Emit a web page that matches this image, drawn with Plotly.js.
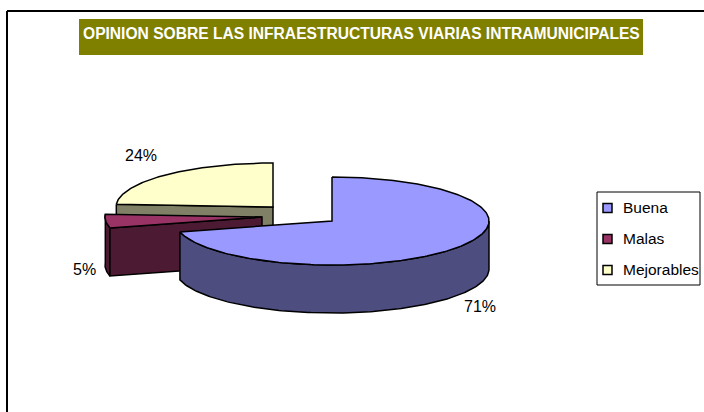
<!DOCTYPE html>
<html>
<head>
<meta charset="utf-8">
<script src="https://cdn.plot.ly/plotly-3.0.1.min.js"></script>
<style>html,body{margin:0;padding:0;background:#fff;overflow:hidden}#c{width:704px;height:412px}</style>
</head>
<body>
<div id="c"></div>
<script>
const chartTitle = "OPINION SOBRE LAS INFRAESTRUCTURAS VIARIAS INTRAMUNICIPALES";
const categories = ["Buena", "Malas", "Mejorables"];
const values = [71, 5, 24];
const topColors = ["#9999FF", "#993366", "#FFFFCC"];
const wallColors = ["#4D4D80", "#4D1A33", "#808066"];
const centers = [[332, 221], [262, 217], [273, 207]];
const labelPos = [[480, 306], [84, 269], [141, 155]];
const RX = 157, RY = 44, DEPTH = 48, LW = 1.5;

const total = values.reduce((a, b) => a + b, 0);
const pt = (c, deg, dy) => [c[0] + RX * Math.sin(deg * Math.PI / 180),
                            c[1] - RY * Math.cos(deg * Math.PI / 180) + (dy || 0)];
function arc(c, a0, a1, dy) {
  const n = Math.max(2, Math.ceil(Math.abs(a1 - a0)));
  const out = [];
  for (let i = 0; i <= n; i++) out.push(pt(c, a0 + (a1 - a0) * i / n, dy));
  return out;
}
function poly(points, color, name) {
  const p = points.concat([points[0]]);
  return {x: p.map(q => q[0]), y: p.map(q => q[1]), mode: "lines", fill: "toself",
          fillcolor: color, line: {color: "#000", width: LW}, name: name,
          hoverinfo: "name", showlegend: false};
}

// start / end angle of each slice, clockwise from 12 o'clock
let run = 0;
const spans = values.map(v => { const s = [run, run + v / total * 360]; run = s[1]; return s; });

const traces = [];
// Mejorables (back)
{
  const i = 2, c = centers[i], [a0, a1] = spans[i];
  const wall = [pt(c, a0), c, [c[0], c[1] + DEPTH], pt(c, a0, DEPTH)];
  traces.push(poly(wall, wallColors[i], categories[i]));
  traces.push(poly(arc(c, a0, a1).concat([c]), topColors[i], categories[i]));
}
// Malas (left)
{
  const i = 1, c = centers[i], [a0, a1] = spans[i];
  const outer = arc(c, a0, a1).concat(arc(c, a1, a0, DEPTH));
  traces.push(poly(outer, wallColors[i], categories[i]));
  const cut = [pt(c, a0), c, [c[0], c[1] + DEPTH], pt(c, a0, DEPTH)];
  traces.push(poly(cut, wallColors[i], categories[i]));
  traces.push(poly(arc(c, a0, a1).concat([c]), topColors[i], categories[i]));
}
// Buena (front)
{
  const i = 0, c = centers[i], [a0, a1] = spans[i];
  const s = Math.max(a0, 90);
  traces.push(poly(arc(c, s, a1).concat(arc(c, a1, s, DEPTH)), wallColors[i], categories[i]));
  traces.push(poly(arc(c, a0, a1).concat([c]), topColors[i], categories[i]));
}

const LEG = {x0: 597, y0: 192, x1: 700, y1: 285, sw: 9, swX: 603, txtX: 621, firstY: 207, step: 31};
const shapes = [
  {type: "line", xref: "x", yref: "y", x0: 7, y0: 11, x1: 704, y1: 11, line: {color: "#000", width: 2}},
  {type: "line", xref: "x", yref: "y", x0: 7, y0: 11, x1: 7, y1: 412, line: {color: "#000", width: 2}},
  {type: "rect", xref: "x", yref: "y", x0: 79, y0: 19, x1: 643, y1: 55, fillcolor: "#808000", line: {width: 0}, layer: "below"},
  {type: "rect", xref: "x", yref: "y", x0: LEG.x0, y0: LEG.y0, x1: LEG.x1, y1: LEG.y1, fillcolor: "#fff", line: {color: "#000", width: 1}}
];
const annotations = [{
  xref: "x", yref: "y", x: 361, y: 33, text: "<b>" + chartTitle + "</b>", showarrow: false,
  font: {family: "Liberation Sans, Arial, sans-serif", size: 15.6, color: "#fff"}, xanchor: "center", yanchor: "middle"
}];
categories.forEach((name, i) => {
  const yc = LEG.firstY + i * LEG.step;
  shapes.push({type: "rect", xref: "x", yref: "y", x0: LEG.swX, y0: yc - LEG.sw / 2 + 1, x1: LEG.swX + LEG.sw, y1: yc + LEG.sw / 2 + 1,
               fillcolor: topColors[i], line: {color: "#000", width: 1.5}});
  annotations.push({xref: "x", yref: "y", x: LEG.txtX, y: yc, text: name, showarrow: false, xanchor: "left", yanchor: "middle",
                    font: {family: "Liberation Sans, Arial, sans-serif", size: 15.5, color: "#000"}});
  annotations.push({xref: "x", yref: "y", x: labelPos[i][0], y: labelPos[i][1], text: Math.round(values[i] / total * 100) + "%", showarrow: false,
                    xanchor: "center", yanchor: "middle", font: {family: "Liberation Sans, Arial, sans-serif", size: 16, color: "#000"}});
});

Plotly.newPlot("c", traces, {
  width: 704, height: 412, margin: {l: 0, r: 0, t: 0, b: 0, pad: 0},
  paper_bgcolor: "#fff", plot_bgcolor: "#fff", showlegend: false,
  xaxis: {range: [0, 704], visible: false, fixedrange: true},
  yaxis: {range: [412, 0], visible: false, fixedrange: true},
  shapes: shapes, annotations: annotations
}, {displayModeBar: false, staticPlot: true});
</script>
</body>
</html>
